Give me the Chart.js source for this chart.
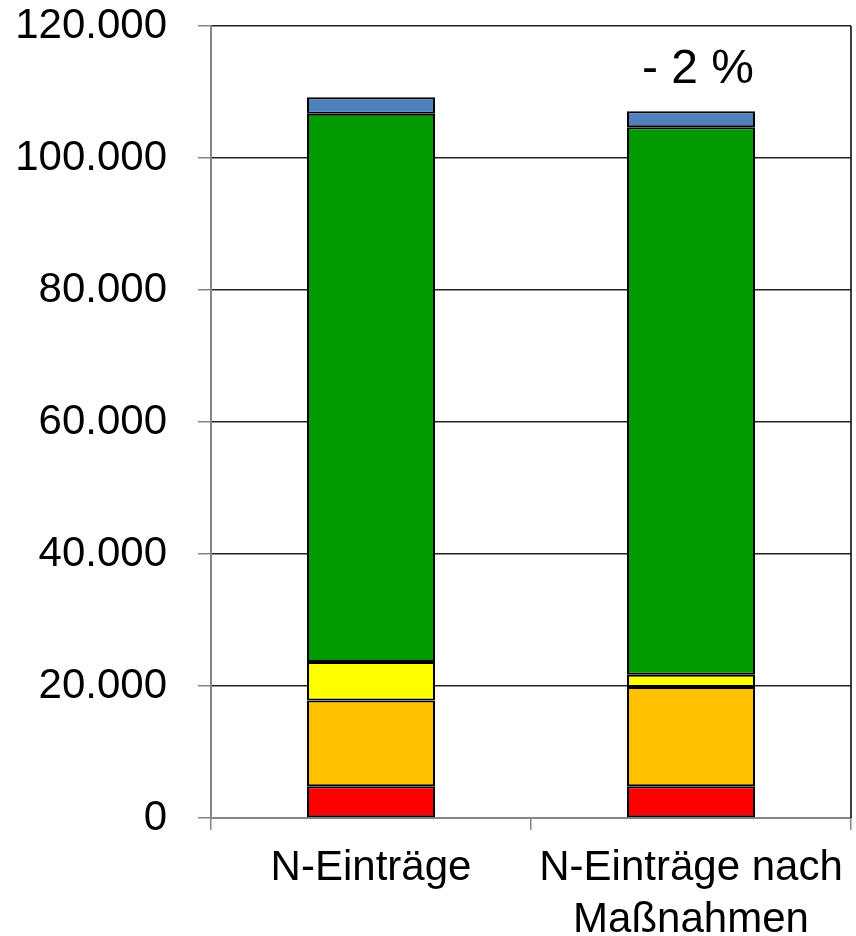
<!DOCTYPE html>
<html lang="de">
<head>
    <meta charset="UTF-8">
    <title>N-Einträge</title>
    <script src="https://cdn.jsdelivr.net/npm/chart.js"></script>
    <style>
        body { margin: 0; background: #fff; }
        #wrap { width: 856px; height: 936px; }
    </style>
</head>
<body>
    <div id="wrap"><canvas id="nChart"></canvas></div>

    <script>
        // Kategorien und Werte (von unten nach oben gestapelt)
        const kategorien = ['N-Einträge', ['N-Einträge nach', 'Maßnahmen']];
        const rot    = [4800, 4800];
        const orange = [13000, 15050];
        const gelb   = [5850, 1870];
        const gruen  = [83050, 82930];
        const blau   = [2500, 2450];
        const yTicks = [0, 20000, 40000, 60000, 80000, 100000, 120000];
        const annotation = '- 2 %';

        const farben = ['#FF0000', '#FFC000', '#FFFF00', '#009900', '#4F81BD'];
        const reihen = [rot, orange, gelb, gruen, blau];

        const datasets = reihen.map(function (werte, i) {
            return {
                data: werte,
                backgroundColor: farben[i],
                borderColor: '#000',
                borderWidth: 2,
                borderSkipped: false,
                categoryPercentage: 1,
                barPercentage: 0.4
            };
        });

        // Rahmen rechts und Prozent-Text
        const rahmenPlugin = {
            id: 'rahmen',
            afterDraw: function (chart) {
                const ctx = chart.ctx;
                const a = chart.chartArea;
                ctx.save();
                ctx.strokeStyle = '#000';
                ctx.lineWidth = 1.5;
                ctx.beginPath();
                ctx.moveTo(a.right, a.top);
                ctx.lineTo(a.right, a.bottom);
                ctx.stroke();

                const meta = chart.getDatasetMeta(reihen.length - 1);
                const bar = meta.data[1];
                ctx.fillStyle = '#000';
                ctx.font = '48px "Liberation Sans", Arial, sans-serif';
                ctx.textAlign = 'center';
                ctx.textBaseline = 'alphabetic';
                ctx.fillText(annotation, bar.x + 7, bar.y - 28);
                ctx.restore();
            }
        };

        document.addEventListener('DOMContentLoaded', function () {
            const ctx = document.getElementById('nChart').getContext('2d');
            new Chart(ctx, {
                type: 'bar',
                data: { labels: kategorien, datasets: datasets },
                plugins: [rahmenPlugin],
                options: {
                    responsive: true,
                    maintainAspectRatio: false,
                    animation: false,
                    layout: { padding: { top: 0, right: 5, left: 0, bottom: 0 } },
                    plugins: {
                        legend: { display: false },
                        tooltip: { enabled: false }
                    },
                    scales: {
                        x: {
                            stacked: true,
                            afterFit: function (axis) { axis.height = 118; },
                            grid: {
                                offset: true,
                                drawOnChartArea: false,
                                drawTicks: true,
                                tickLength: 12,
                                color: '#868686',
                                lineWidth: 1.5
                            },
                            border: { color: '#868686', width: 2 },
                            ticks: {
                                color: '#000',
                                padding: 12,
                                maxRotation: 0,
                                autoSkip: false,
                                font: { family: '"Liberation Sans", Arial, sans-serif', size: 42, lineHeight: 1.24 }
                            }
                        },
                        y: {
                            stacked: true,
                            min: 0,
                            max: 120000,
                            afterBuildTicks: function (axis) {
                                axis.ticks = yTicks.map(function (v) { return { value: v }; });
                            },
                            afterFit: function (axis) {
                                axis.width = 211;
                                axis.paddingTop = 26;
                                axis.paddingBottom = 0;
                            },
                            grid: {
                                color: '#222',
                                lineWidth: 1.5,
                                tickLength: 13,
                                tickColor: '#868686'
                            },
                            border: { color: '#868686', width: 2 },
                            ticks: {
                                color: '#000',
                                padding: 31,
                                font: { family: '"Liberation Sans", Arial, sans-serif', size: 42 },
                                callback: function (v) { return v.toLocaleString('de-DE'); }
                            }
                        }
                    }
                }
            });
        });
    </script>
</body>
</html>
